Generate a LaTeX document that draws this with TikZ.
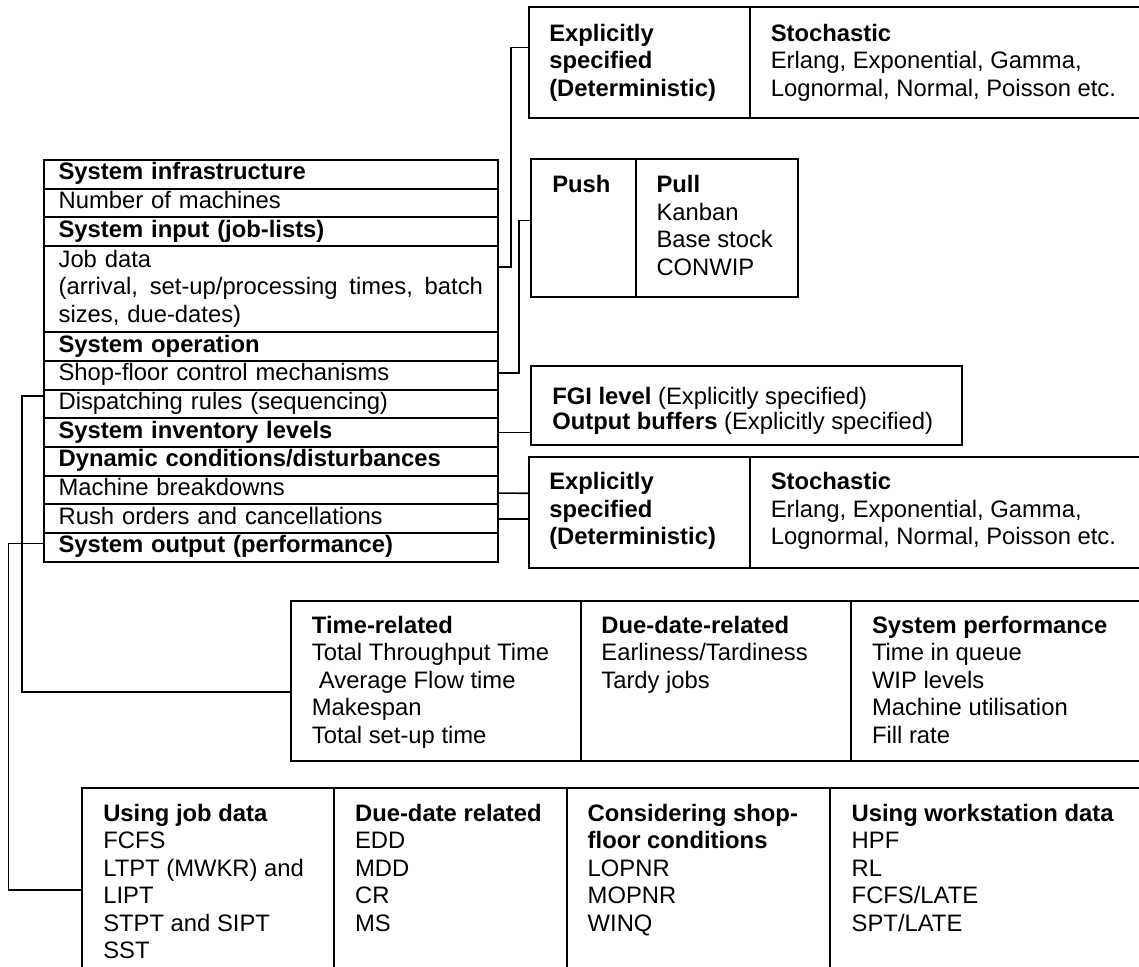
\documentclass[tikz,border=0pt]{standalone}
\usepackage{fontspec}
\setmainfont{Liberation Sans}
\newdimen\pxu \pxu=0.5pt
\newcommand\cellfont{\fontsize{11.9pt}{13.75pt}\selectfont}
\begin{document}
\begin{tikzpicture}[x=0.5pt,y=-0.5pt,
  cell/.style={draw, line width=1pt, inner sep=0pt, outer sep=0pt, anchor=north west},
  row/.style={draw, line width=1pt, anchor=north west, inner xsep=15\pxu, inner ysep=0pt,
    outer sep=0pt, minimum height=28.7\pxu, text width=424.4\pxu, align=left, font=\cellfont},
  txt/.style={anchor=north west, inner sep=0pt, outer sep=0pt, align=left, font=\cellfont},
  link/.style={line width=0.8pt, line join=miter}]
\useasboundingbox (0,0) rectangle (1139,967);
\fill[white] (0,0) rectangle (1139,967);
\clip (0,0) rectangle (1139,967);

% ---- model description table ----
\node[row] (inf) at (43.6,160) {\strut\textbf{System infrastructure}};
\node[row] (nm)  at (inf.south west) {\strut Number of machines};
\node[row] (si)  at (nm.south west) {\strut\textbf{System input (job-lists)}};
\node[row, minimum height=86.1\pxu] (jd) at (si.south west)
  {\strut Job data\\(arrival,\hfill set-up/processing\hfill times,\hfill batch\\sizes, due-dates)\strut};
\node[row] (sop) at (jd.south west) {\strut\textbf{System operation}};
\node[row] (sf)  at (sop.south west) {\strut Shop-floor control mechanisms};
\node[row] (dr)  at (sf.south west) {\strut Dispatching rules (sequencing)};
\node[row] (inv) at (dr.south west) {\strut\textbf{System inventory levels}};
\node[row] (dyn) at (inv.south west) {\strut\textbf{Dynamic conditions/disturbances}};
\node[row] (mb)  at (dyn.south west) {\strut Machine breakdowns};
\node[row] (ro)  at (mb.south west) {\strut Rush orders and cancellations};
\node[row] (so)  at (ro.south west) {\strut\textbf{System output (performance)}};

% ---- job data distributions ----
\node[cell, minimum width=221\pxu, minimum height=110.7\pxu] (tbL) at (529,7.3) {};
\node[cell, minimum width=420\pxu, minimum height=110.7\pxu] (tbR) at (tbL.north east) {};
\node[txt, font=\cellfont\bfseries] (tbLt) at (549.3,22) {\strut Explicitly\\specified\\(Deterministic)};
\node[txt] (tbRt) at (770.8,22) {\strut\textbf{Stochastic}\\Erlang, Exponential, Gamma,\\Lognormal, Normal, Poisson etc.};

% ---- shop-floor control ----
\node[cell, minimum width=104.5\pxu, minimum height=137.7\pxu] (pbL) at (531,159) {};
\node[cell, minimum width=162.5\pxu, minimum height=137.7\pxu] (pbR) at (pbL.north east) {};
\node[txt, font=\cellfont\bfseries] (pbLt) at (552.3,173.75) {\strut Push};
\node[txt] (pbRt) at (656.5,173.75) {\strut\textbf{Pull}\\Kanban\\Base stock\\CONWIP};

% ---- inventory levels ----
\node[cell, minimum width=431\pxu, minimum height=79.3\pxu] (fgi) at (531,365.7) {};
\node[txt] (fgit) at (552.3,385.5) {\strut\textbf{FGI level} (Explicitly specified)\\[-1.25pt]\textbf{Output buffers} (Explicitly specified)};

% ---- disturbances ----
\node[cell, minimum width=221\pxu, minimum height=111\pxu] (lbL) at (529,456.7) {};
\node[cell, minimum width=420\pxu, minimum height=111\pxu] (lbR) at (lbL.north east) {};
\node[txt, font=\cellfont\bfseries] (lbLt) at (549.3,470.5) {\strut Explicitly\\specified\\(Deterministic)};
\node[txt] (lbRt) at (770.8,470.5) {\strut\textbf{Stochastic}\\Erlang, Exponential, Gamma,\\Lognormal, Normal, Poisson etc.};

% ---- performance measures ----
\node[cell, minimum width=290\pxu, minimum height=160\pxu] (pf1) at (291,600.7) {};
\node[cell, minimum width=270.4\pxu, minimum height=160\pxu] (pf2) at (pf1.north east) {};
\node[cell, minimum width=320\pxu, minimum height=160\pxu] (pf3) at (pf2.north east) {};
\node[txt] (pf1t) at (311.9,613.75) {\strut\textbf{Time-related}\\Total Throughput Time\\\hspace*{3.5pt}Average Flow time\\Makespan\\Total set-up time};
\node[txt] (pf2t) at (601.4,613.75) {\strut\textbf{Due-date-related}\\Earliness/Tardiness\\Tardy jobs};
\node[txt] (pf3t) at (872,613.75) {\strut\textbf{System performance}\\Time in queue\\WIP levels\\Machine utilisation\\Fill rate};

% ---- dispatching rules ----
\node[cell, minimum width=251.7\pxu, minimum height=220\pxu] (dp1) at (82.3,788.3) {};
\node[cell, minimum width=233.4\pxu, minimum height=220\pxu] (dp2) at (dp1.north east) {};
\node[cell, minimum width=262.9\pxu, minimum height=220\pxu] (dp3) at (dp2.north east) {};
\node[cell, minimum width=340\pxu, minimum height=220\pxu] (dp4) at (dp3.north east) {};
\node[txt] (dp1t) at (103.3,802) {\strut\textbf{Using job data}\\FCFS\\LTPT (MWKR) and\\LIPT\\STPT and SIPT\\SST};
\node[txt] (dp2t) at (355.1,802) {\strut\textbf{Due-date related}\\EDD\\MDD\\CR\\MS};
\node[txt] (dp3t) at (587.7,802) {\strut\textbf{Considering shop-}\\\textbf{floor conditions}\\LOPNR\\MOPNR\\WINQ};
\node[txt] (dp4t) at (851.7,802) {\strut\textbf{Using workstation data}\\HPF\\RL\\FCFS/LATE\\SPT/LATE};

% ---- connectors ----
\draw[link] (jd.east |- 0,267) -| (511,47.7) -- (tbL.west |- 0,47.7);
\draw[link] ([yshift=1pt]sf.east) -| (519,220.7) -- (pbL.west |- 0,220.7);
\draw[link] (inv.east) -- (fgi.west |- inv.east);
\draw[link] ([yshift=-1.5pt]mb.east) -- (lbL.west |- 0,493.3);
\draw[link] (ro.east) -- (lbL.west |- ro.east);
\draw[link] ([yshift=4pt]dr.west) -| (21.7,691.7) -- (pf1.west |- 0,691.7);
\draw[link] ([yshift=2pt]so.west) -| (8.4,890) -- (dp1.west |- 0,890);
\end{tikzpicture}
\end{document}
